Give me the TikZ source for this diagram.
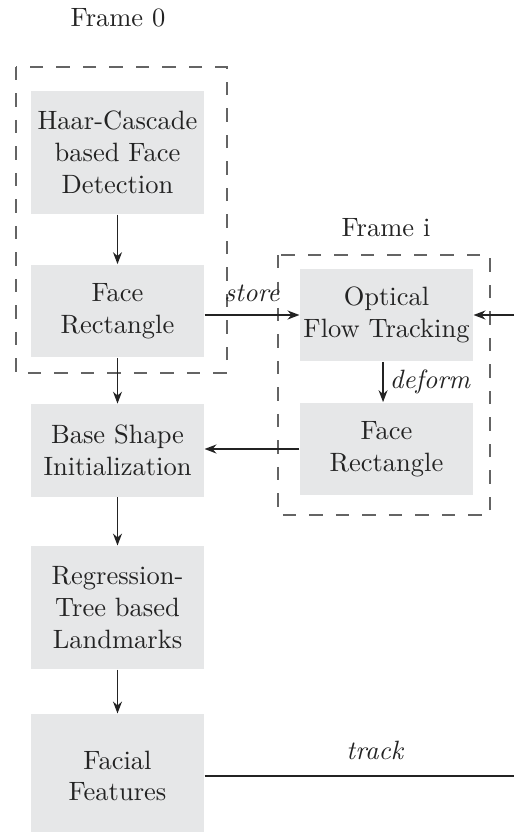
\documentclass[tikz,border=0pt]{standalone}
\usetikzlibrary{arrows.meta}
\definecolor{boxgray}{RGB}{230,231,232}
\definecolor{framegray}{RGB}{100,100,100}
\definecolor{inkgray}{RGB}{35,35,35}
\begin{document}
\begin{tikzpicture}[x=0.3774pt, y=-0.3774pt,
  procbox/.style={fill=boxgray, minimum width=65.3pt, align=center, inner sep=0pt, text=inkgray},
  flowline/.style={-{Stealth[length=4.5pt,width=3.4pt]}, draw=inkgray, line width=0.5pt},
  plainline/.style={draw=inkgray, line width=0.5pt},
  framebox/.style={draw=framegray, line width=0.5pt, dash pattern=on 5pt off 5pt},
  lbl/.style={font=\itshape, text=inkgray}]
\useasboundingbox (0,0) rectangle (514,832);

% frame captions
\node[text=inkgray] (f0) at (118,18) {Frame 0};
\node[text=inkgray] (fi) at (386,228) {Frame i};

% dashed frame groups
\draw[framebox] (16,67) rectangle (227,373);
\draw[framebox] (278,255) rectangle (490,515);

% processing steps, left column
\node[procbox, minimum height=46.4pt] (haar)  at (117.5,152.5) {Haar-Cascade\\based Face\\Detection};
\node[procbox, minimum height=35pt]   (rect0) at (117.5,311)   {Face\\Rectangle};
\node[procbox, minimum height=35pt]   (base)  at (117.5,450.5) {Base Shape\\Initialization};
\node[procbox, minimum height=46.4pt] (reg)   at (117.5,607.5) {Regression-\\Tree based\\Landmarks};
\node[procbox, minimum height=46.8pt] (feat)  at (117.5,776)   {Facial\\Features};

% processing steps, right column
\node[procbox, minimum height=35pt] (oft)   at (386.5,315) {Optical\\Flow Tracking};
\node[procbox, minimum height=35pt] (recti) at (386.5,449) {Face\\Rectangle};

% free ends at the right margin
\coordinate (inR)  at (514,317);
\coordinate (outR) at (514,776);

% connectors
\draw[flowline] (haar) -- (rect0);
\draw[flowline] (rect0.east |- oft.west) -- node[lbl, above=1.5pt] {store} (oft.west);
\draw[flowline] (inR |- oft.east) -- (oft.east);
\draw[flowline] ([xshift=-1.3pt]oft.south) -- node[lbl, right=-1pt] {deform} ([xshift=-1.3pt]recti.north);
\draw[flowline] (recti.west) -- (base.east |- recti.west);
\draw[flowline] (rect0) -- (base);
\draw[flowline] (base) -- (reg);
\draw[flowline] (reg) -- (feat);
\draw[plainline] (feat.east) -- node[lbl, above=2.5pt, pos=0.55] {track} (outR |- feat.east);
\end{tikzpicture}
\end{document}
